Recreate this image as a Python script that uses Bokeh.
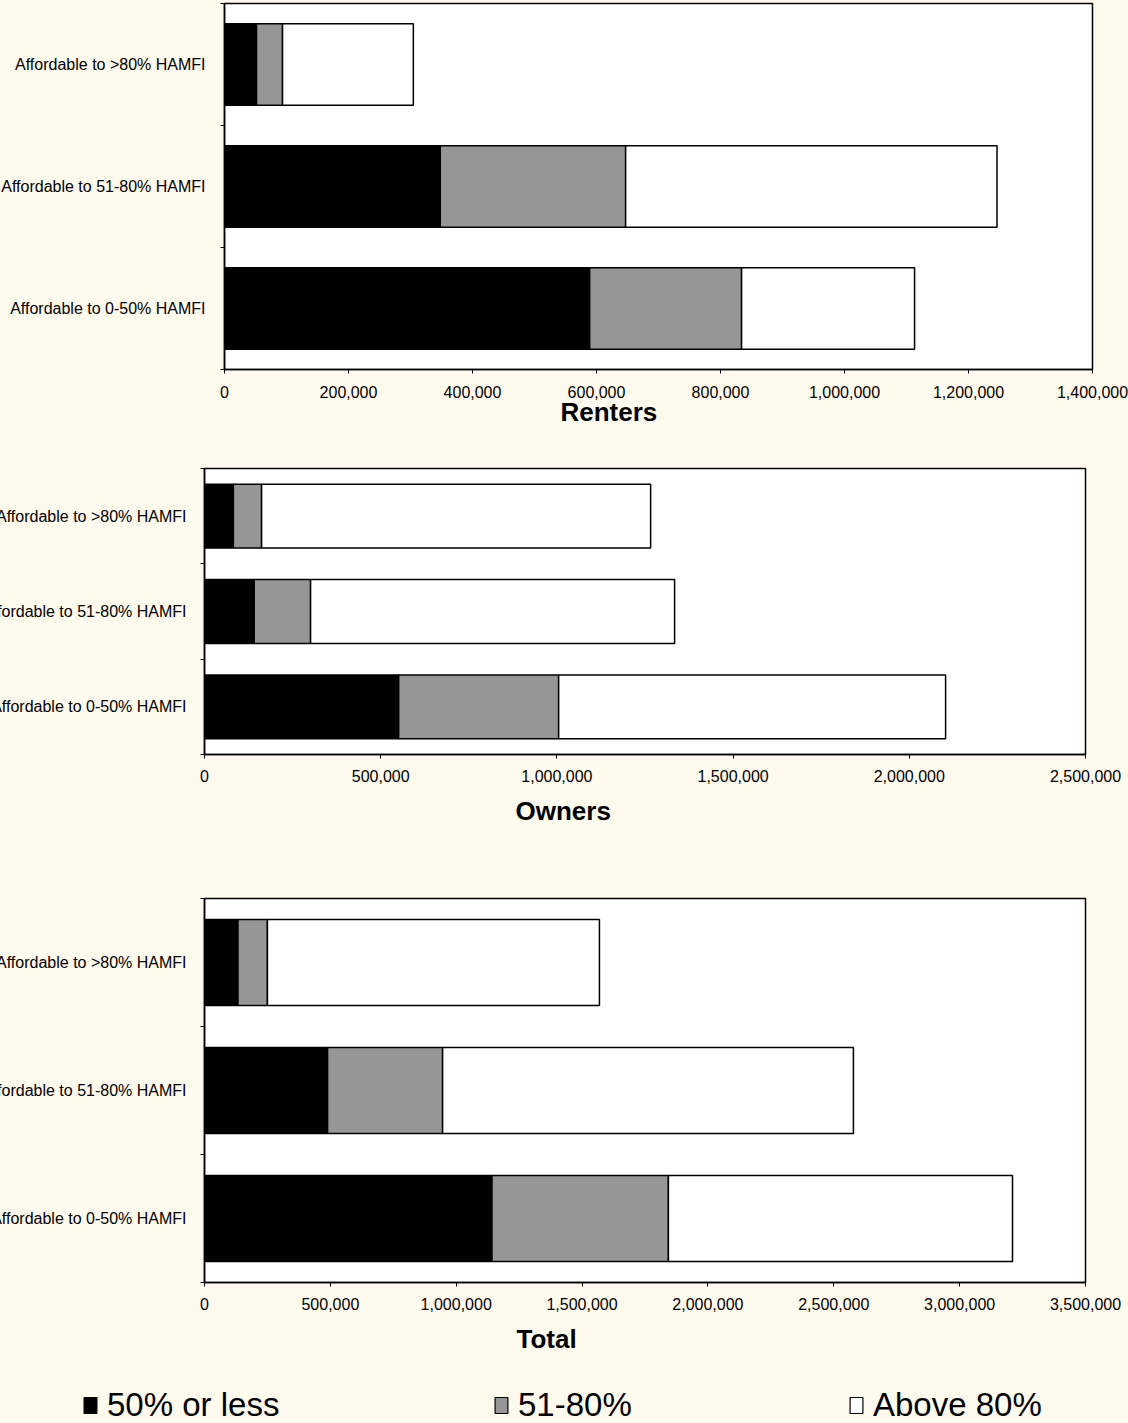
from bokeh.plotting import figure
from bokeh.models import (Range1d, FixedTicker, NumeralTickFormatter, Title,
                          ColumnDataSource, Legend, LegendItem)
from bokeh.layouts import column
from bokeh.embed import file_html
from bokeh.resources import INLINE

# ---------------- data ----------------
categories = ["Affordable to 0-50% HAMFI", "Affordable to 51-80% HAMFI", "Affordable to >80% HAMFI"]
series = ["50% or less", "51-80%", "Above 80%"]
colors = ["#000000", "#969696", "#FFFFFF"]

renters_50 = [589000, 348000, 51600]
renters_80 = [245000, 299000, 42000]
renters_above = [279000, 599000, 211000]

owners_50 = [551000, 141000, 82000]
owners_80 = [454000, 160000, 80000]
owners_above = [1098000, 1033000, 1104000]

total_50 = [1142000, 489000, 133000]
total_80 = [701000, 457000, 117000]
total_above = [1367000, 1632000, 1319000]

renters_ticks = [0, 200000, 400000, 600000, 800000, 1000000, 1200000, 1400000]
owners_ticks = [0, 500000, 1000000, 1500000, 2000000, 2500000]
total_ticks = [0, 500000, 1000000, 1500000, 2000000, 2500000, 3000000, 3500000]

BG = "#FFFAEE"
FONT = "Liberation Sans"
LEFT = 230
PAGE_SHIFT = 26


def make_chart(title, s50, s80, sab, ticks, shift, fw, right, top, fh, bottom,
               label_gap, tick_standoff, title_dx, title_standoff):
    p = figure(x_range=Range1d(ticks[0], ticks[-1]), y_range=Range1d(0, 3),
               frame_width=fw, frame_height=fh,
               min_border_left=LEFT, min_border_right=right,
               min_border_top=top, min_border_bottom=bottom,
               output_backend="svg", toolbar_location=None,
               background_fill_color="white", border_fill_color=BG,
               styles={"margin-left": f"{shift}px", "max-width": "none"})
    p.xgrid.visible = False
    p.ygrid.visible = False
    p.outline_line_color = "black"
    p.outline_line_width = 1.5

    src = ColumnDataSource(dict(y=[0.5, 1.5, 2.5], a=s50, b=s80, c=sab))
    p.hbar_stack(["a", "b", "c"], y="y", height=0.67, fill_color=colors,
                 line_color="black", line_width=1.5, source=src)

    xa = p.xaxis[0]
    xa.ticker = FixedTicker(ticks=ticks)
    xa.formatter = NumeralTickFormatter(format="0,0")
    xa.major_label_text_font = FONT
    xa.major_label_text_font_size = "16px"
    xa.major_label_text_color = "black"
    xa.major_label_standoff = tick_standoff
    xa.axis_line_color = "black"
    xa.axis_line_width = 1.5
    xa.major_tick_out = 4
    xa.major_tick_in = 0
    xa.major_tick_line_color = "black"
    xa.minor_tick_out = 0
    xa.minor_tick_in = 0

    ya = p.yaxis[0]
    ya.ticker = FixedTicker(ticks=[0.5, 1.5, 2.5], minor_ticks=[0, 1, 2, 3])
    ya.major_label_overrides = {0.5: categories[0], 1.5: categories[1], 2.5: categories[2]}
    ya.major_label_text_font = FONT
    ya.major_label_text_font_size = "16px"
    ya.major_label_text_color = "black"
    ya.major_label_standoff = label_gap
    ya.axis_line_color = "black"
    ya.axis_line_width = 1.5
    ya.major_tick_out = 0
    ya.major_tick_in = 0
    ya.minor_tick_out = 4
    ya.minor_tick_in = 0
    ya.minor_tick_line_color = "black"

    p.add_layout(Title(text=title, align="left", offset=title_dx, vertical_align="top",
                       standoff=title_standoff, text_font=FONT, text_font_size="26px",
                       text_font_style="bold", text_color="black"), "below")
    return p


p1 = make_chart("Renters", renters_50, renters_80, renters_above, renters_ticks,
                20, 868, 56, 3, 366, 71, 15, 12, 336, -8)
p2 = make_chart("Owners", owners_50, owners_80, owners_above, owners_ticks,
                0, 881, 43, 28, 286, 106, 14, 11, 311, 22)
p3 = make_chart("Total", total_50, total_80, total_above, total_ticks,
                0, 881, 43, 38, 384, 88, 14, 11, 312, 22)

leg = figure(frame_width=1128 + PAGE_SHIFT, frame_height=53, x_range=Range1d(0, 1), y_range=Range1d(0, 1),
             min_border=0, output_backend="svg", toolbar_location=None,
             background_fill_color=BG, border_fill_color=BG, outline_line_color=None)
leg.axis.visible = False
leg.xgrid.visible = False
leg.ygrid.visible = False
legend_x = [82, 493, 848]
for name, col, lx in zip(series, colors, legend_x):
    # legend proxy glyph, placed outside the visible range
    r = leg.rect(x=[-5], y=[-5], width=1, height=1, fill_color=col, line_color="black", line_width=1.2)
    lg = Legend(items=[LegendItem(label=name, renderers=[r])], location=(lx + PAGE_SHIFT, -1),
                orientation="horizontal", glyph_width=16, glyph_height=20, label_standoff=9,
                padding=0, margin=0, spacing=0, border_line_color=None,
                background_fill_alpha=0, label_text_font=FONT, label_text_font_size="33px",
                label_text_color="black", label_height=30)
    leg.add_layout(lg)

page = column(p1, p2, p3, leg, spacing=0,
              styles={"background-color": BG, "margin-left": f"-{PAGE_SHIFT}px",
                      "overflow": "hidden", "max-width": "none"})
with open("out.html", "w") as f:
    f.write(file_html(page, INLINE, title="chart"))
